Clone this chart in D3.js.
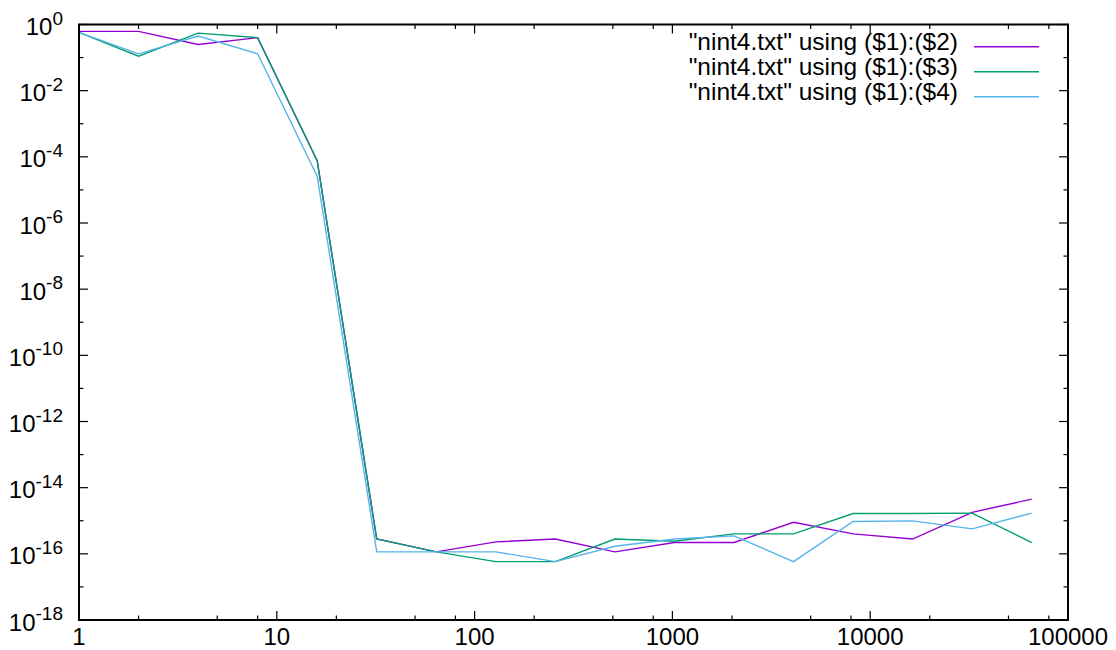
<!DOCTYPE html>
<html>
<head>
<meta charset="utf-8">
<script src="https://cdn.jsdelivr.net/npm/d3@7"></script>
<style>
  html, body { margin: 0; padding: 0; background: #fff; }
  svg { display: block; }
  text { font-family: "Liberation Sans", Arial, Helvetica, sans-serif; fill: #000; }
</style>
</head>
<body>
<svg id="chart" width="1116" height="650"></svg>
<script>
// ---- data ----
const xValues = [1, 2, 4, 8, 16, 32, 64, 128, 256, 512, 1024, 2048, 4096, 8192, 16384, 32768, 65536];
const col2 = [0.62, 0.62, 0.25, 0.40, 7.7e-5, 2.8e-16, 1.15e-16, 2.3e-16, 2.8e-16, 1.15e-16, 2.2e-16, 2.2e-16, 9.0e-16, 4.0e-16, 2.8e-16, 1.8e-15, 4.5e-15];
const col3 = [0.58, 0.11, 0.55, 0.40, 7.7e-5, 2.8e-16, 1.15e-16, 5.8e-17, 5.8e-17, 2.8e-16, 2.4e-16, 4.0e-16, 4.0e-16, 1.65e-15, 1.65e-15, 1.7e-15, 2.2e-16];
const col4 = [0.58, 0.13, 0.45, 0.13, 2.6e-5, 1.15e-16, 1.15e-16, 1.15e-16, 5.8e-17, 1.7e-16, 2.8e-16, 3.5e-16, 5.8e-17, 9.5e-16, 9.9e-16, 5.7e-16, 1.7e-15];
const seriesNames = ['"nint4.txt" using ($1):($2)', '"nint4.txt" using ($1):($3)', '"nint4.txt" using ($1):($4)'];
const seriesColors = ["#9400d3", "#009e73", "#56b4e9"];
const xTickLabels = ["1", "10", "100", "1000", "10000", "100000"];
const yTickExponents = [0, -2, -4, -6, -8, -10, -12, -14, -16, -18];

// ---- layout ----
const L = 79, R = 1068, T = 24.5, B = 620;
const svg = d3.select("#chart");
const x = d3.scaleLog().domain([1, 1e5]).range([L, R]);
const y = d3.scaleLog().domain([1e-18, 1]).range([B, T]);

// minor / major ticks
const xMajor = xTickLabels.map(Number);
const xMinor = [];
for (let d = 1; d < 1e5; d *= 10) [2, 5, 8].forEach(m => xMinor.push(d * m));
const yMajor = yTickExponents.map(e => Math.pow(10, e));
const yMinor = d3.range(-17, 0, 2).map(e => Math.pow(10, e));

const g = svg.append("g");
const tickStroke = 1.2;

function drawX(vals, len) {
  vals.forEach(v => {
    const px = x(v);
    g.append("line").attr("x1", px).attr("x2", px).attr("y1", B).attr("y2", B - len)
      .attr("stroke", "#000").attr("stroke-width", tickStroke);
    g.append("line").attr("x1", px).attr("x2", px).attr("y1", T).attr("y2", T + len)
      .attr("stroke", "#000").attr("stroke-width", tickStroke);
  });
}
function drawY(vals, len) {
  vals.forEach(v => {
    const py = y(v);
    g.append("line").attr("x1", L).attr("x2", L + len).attr("y1", py).attr("y2", py)
      .attr("stroke", "#000").attr("stroke-width", tickStroke);
    g.append("line").attr("x1", R).attr("x2", R - len).attr("y1", py).attr("y2", py)
      .attr("stroke", "#000").attr("stroke-width", tickStroke);
  });
}
drawX(xMajor, 9);
drawX(xMinor, 4.5);
drawY(yMajor, 9);
drawY(yMinor, 4.5);

// x labels
xMajor.forEach((v, i) => {
  svg.append("text").attr("x", x(v)).attr("y", 645)
    .attr("text-anchor", "middle").attr("font-size", "24px")
    .text(xTickLabels[i]);
});
// y labels with superscript
yTickExponents.forEach((e, i) => {
  const t = svg.append("text").attr("x", 63).attr("y", y(yMajor[i]) + 10.5)
    .attr("text-anchor", "end").attr("font-size", "24px");
  t.append("tspan").text("10");
  t.append("tspan").attr("font-size", "19px").attr("dy", -10.5).text(String(e));
});

// lines
const seriesData = [col2, col3, col4];
const line = d3.line().x(d => x(d[0])).y(d => y(d[1]));
seriesData.forEach((vals, i) => {
  svg.append("path").datum(xValues.map((xv, j) => [xv, vals[j]]))
    .attr("d", line).attr("fill", "none")
    .attr("stroke", seriesColors[i]).attr("stroke-width", 1.4)
    .attr("stroke-linejoin", "miter");
});

// border
svg.append("rect").attr("x", L).attr("y", T).attr("width", R - L).attr("height", B - T)
  .attr("fill", "none").attr("stroke", "#000").attr("stroke-width", 2);

// legend
seriesNames.forEach((name, i) => {
  const ly = 46.7 + i * 25;
  svg.append("text").attr("x", 958).attr("y", ly + 3.5)
    .attr("text-anchor", "end").attr("font-size", "24.5px").text(name);
  svg.append("line").attr("x1", 974).attr("x2", 1039).attr("y1", ly).attr("y2", ly)
    .attr("stroke", seriesColors[i]).attr("stroke-width", 1.4);
});
</script>
</body>
</html>
